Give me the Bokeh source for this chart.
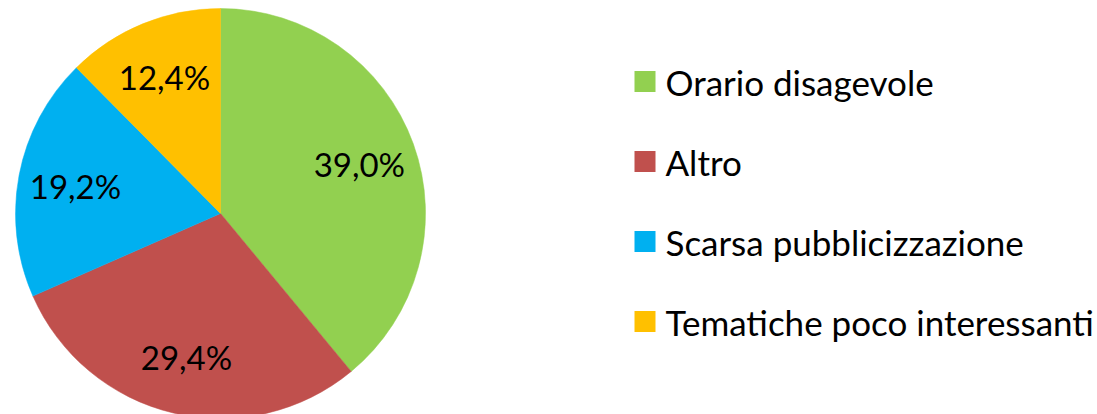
import math
from bokeh.plotting import figure
from bokeh.models import ColumnDataSource
from bokeh.core.properties import value
from bokeh.embed import file_html
from bokeh.resources import INLINE

categories = ["Orario disagevole", "Altro", "Scarsa pubblicizzazione", "Tematiche poco interessanti"]
values = [39.0, 29.4, 19.2, 12.4]
labels = ["39,0%", "29,4%", "19,2%", "12,4%"]
colors = ["#92D050", "#C0504D", "#00B0F0", "#FFC000"]

W, H = 1097, 414
CX, CY, R = 220, H - 213, 205
LABEL_R = 0.72
FONT = "Lato"

# legend layout (pixels)
LEG_X = 644.5
LEG_TOP = H - 81
LEG_PITCH = 80
LEG_BOX = 21
LEG_TEXT_X = 665

total = sum(values)
starts, ends, lx, ly = [], [], [], []
cum = 0.0
for v in values:
    a0 = math.pi / 2 - 2 * math.pi * cum / total
    cum += v
    a1 = math.pi / 2 - 2 * math.pi * cum / total
    starts.append(a0)
    ends.append(a1)
    mid = (a0 + a1) / 2
    lx.append(CX + LABEL_R * R * math.cos(mid))
    ly.append(CY + LABEL_R * R * math.sin(mid))

leg_y = [LEG_TOP - i * LEG_PITCH for i in range(len(categories))]

src = ColumnDataSource(dict(cat=categories, val=values, lab=labels, color=colors,
                            start=starts, end=ends, lx=lx, ly=ly,
                            legx=[LEG_X] * len(categories), legtx=[LEG_TEXT_X] * len(categories),
                            legy=leg_y))

p = figure(width=W, height=H, x_range=(0, W), y_range=(0, H),
           output_backend="svg", toolbar_location=None, min_border=0)
p.axis.visible = False
p.grid.visible = False
p.outline_line_color = None
p.background_fill_color = "white"
p.border_fill_color = "white"

p.wedge(x=CX, y=CY, radius=R, start_angle="start", end_angle="end", source=src,
        direction="clock", fill_color="color", line_color="color", line_width=0.5)

p.text(x="lx", y="ly", text="lab", source=src, text_font=value(FONT),
       text_font_size="33px", text_color="black", text_align="center", text_baseline="middle")

p.rect(x="legx", y="legy", width=LEG_BOX, height=LEG_BOX, width_units="screen",
       height_units="screen", source=src, fill_color="color", line_color=None)
p.text(x="legtx", y="legy", text="cat", source=src, text_font=value(FONT),
       text_font_size="35px", text_color="black", text_align="left", text_baseline="middle")

open("out.html", "w").write(file_html(p, INLINE))
